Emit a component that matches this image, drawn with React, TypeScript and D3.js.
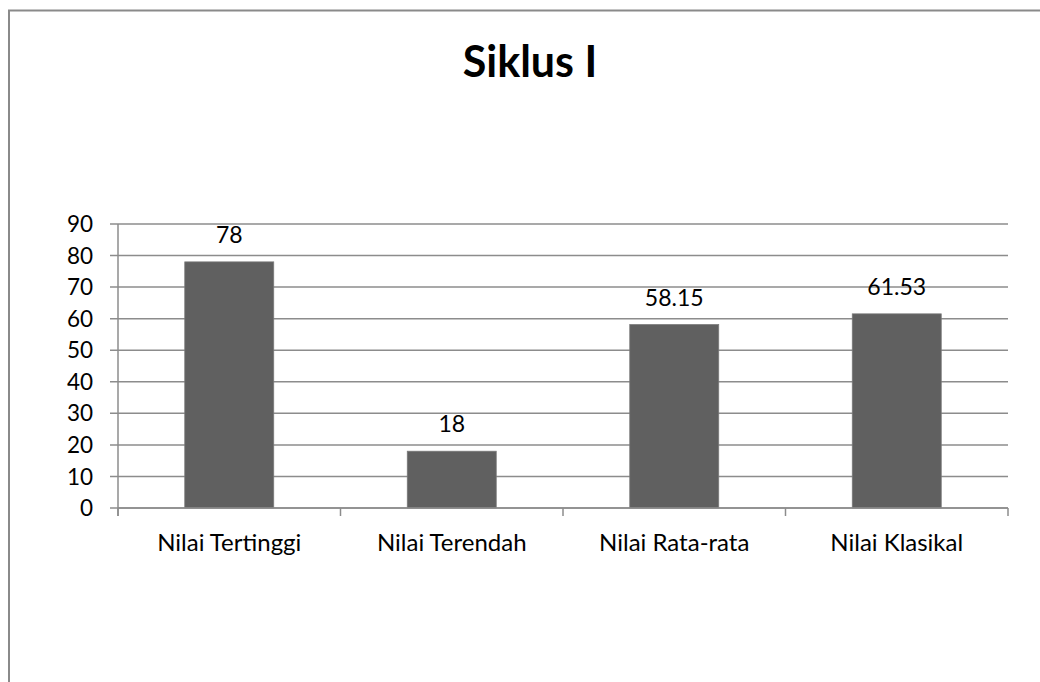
import React from 'react';
import * as d3 from 'd3';

const title = 'Siklus I';
const categories = ['Nilai Tertinggi', 'Nilai Terendah', 'Nilai Rata-rata', 'Nilai Klasikal'];
const values = [78, 18, 58.15, 61.53];
const yTicks = [0, 10, 20, 30, 40, 50, 60, 70, 80, 90];

const W = 1040;
const H = 682;
const font = 'Lato, "Open Sans", sans-serif';

const App = () => {
  // plot area
  const left = 118;
  const right = 1008;
  const top = 224;
  const bottom = 508;

  const x = d3.scaleBand().domain(categories).range([left, right]).paddingInner(0.6).paddingOuter(0.3);
  const y = d3.scaleLinear().domain([0, 90]).range([bottom, top]);
  const step = (right - left) / categories.length;

  return (
    <svg width={W} height={H} style={{ position: 'absolute', left: 0, top: 0, background: '#fff' }}>
      {/* frame, cut off by the window at right and bottom */}
      <rect x={9} y={10.5} width={1200} height={900} fill="#fff" stroke="#8a8a8a" strokeWidth={2} />

      <text x={530} y={77} textAnchor="middle" fontFamily={font} fontWeight={700} fontSize={43} fill="#000">
        {title}
      </text>

      {/* gridlines + y ticks */}
      {yTicks.map((t) => (
        <g key={t}>
          <line x1={left - 8} x2={right} y1={y(t)} y2={y(t)} stroke="#8c8c8c" strokeWidth={1.5} />
          <text x={93} y={y(t)} dy="0.36em" textAnchor="end" fontFamily={font} fontSize={22.5} fill="#000">
            {t}
          </text>
        </g>
      ))}

      {/* y axis */}
      <line x1={left} x2={left} y1={top} y2={bottom + 8} stroke="#8c8c8c" strokeWidth={1.5} />

      {/* x ticks at category boundaries */}
      {d3.range(categories.length + 1).map((i) => (
        <line key={i} x1={left + i * step} x2={left + i * step} y1={bottom} y2={bottom + 8} stroke="#8c8c8c" strokeWidth={1.5} />
      ))}

      {/* bars */}
      {categories.map((c, i) => (
        <g key={c}>
          <rect
            x={x(c)}
            y={y(values[i])}
            width={x.bandwidth()}
            height={bottom - y(values[i])}
            fill="#606060"
            stroke="#7a7a7a"
            strokeWidth={0.75}
          />
          <text
            x={(x(c) ?? 0) + x.bandwidth() / 2}
            y={y(values[i]) - 19}
            textAnchor="middle"
            fontFamily={font}
            fontSize={23}
            fill="#000"
          >
            {values[i]}
          </text>
          <text
            x={(x(c) ?? 0) + x.bandwidth() / 2}
            y={551}
            textAnchor="middle"
            fontFamily={font}
            fontSize={24}
            fill="#000"
          >
            {c}
          </text>
        </g>
      ))}

      <line x1={left} x2={right} y1={bottom} y2={bottom} stroke="#8c8c8c" strokeWidth={1.5} />
    </svg>
  );
};

export default App;
